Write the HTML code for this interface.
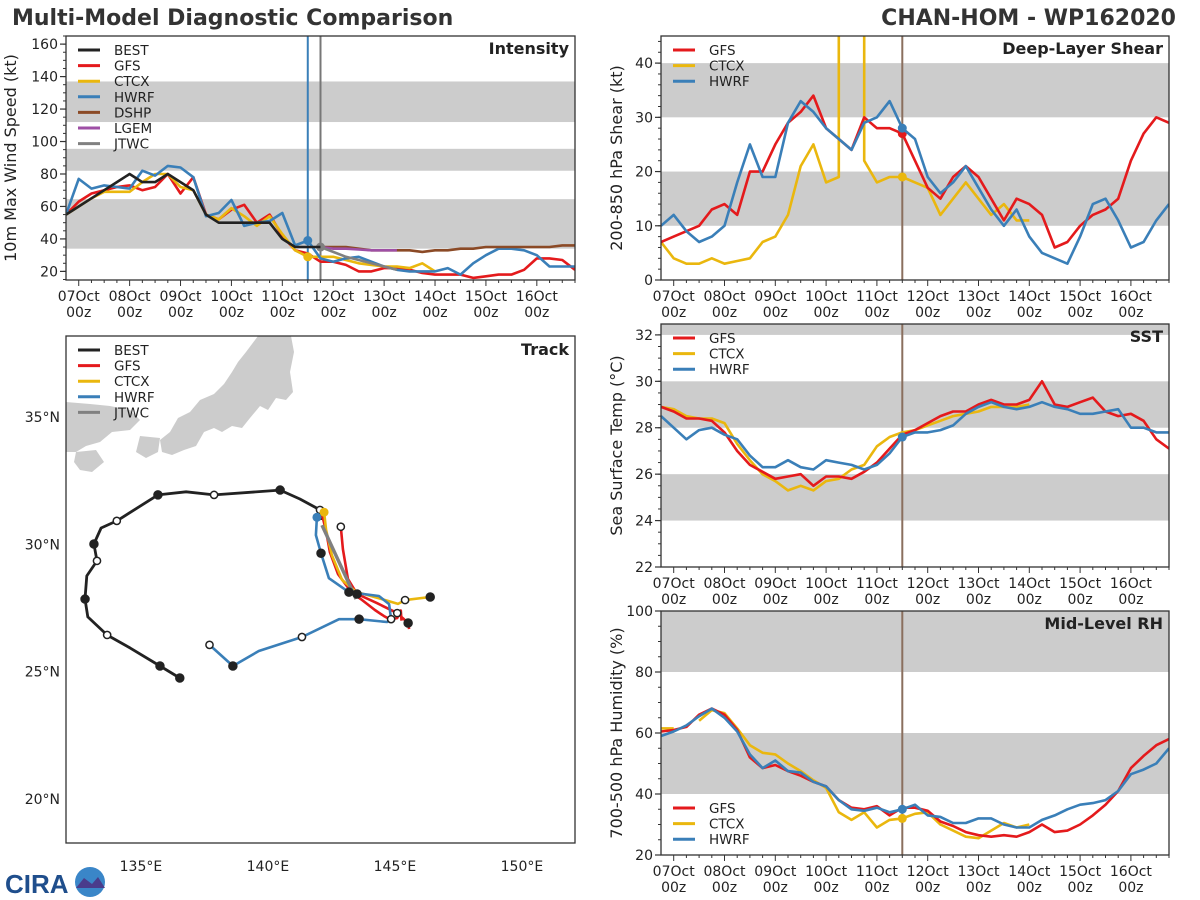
<!DOCTYPE html>
<html><head><meta charset="utf-8"><style>
html,body{margin:0;padding:0;background:#fff;}
svg{display:block;font-family:"DejaVu Sans","Liberation Sans",sans-serif;}
</style></head><body>
<svg id="fig" width="1200" height="900" viewBox="0 0 1200 900" xmlns="http://www.w3.org/2000/svg">
<text x="12" y="25" font-size="22" font-weight="bold" fill="#333">Multi-Model Diagnostic Comparison</text>
<text x="1176" y="25" font-size="22" font-weight="bold" fill="#333" text-anchor="end">CHAN-HOM - WP162020</text>
<g>
<text x="5" y="893" font-size="26" font-weight="bold" fill="#1f4e8c" font-family="Liberation Sans, sans-serif">CIRA</text>
<circle cx="90" cy="882" r="15" fill="#3a86c8"/>
<path d="M76 888 L84 878 L92 884 L98 877 L105 888 Z" fill="#4a3c8c"/>
</g>
</svg>
<script>
// ---------- data ----------
const hours = [-6,0,6,12,18,24,30,36,42,48,54,60,66,72,78,84,90,96,102,108,114,120,126,132,138,144,150,156,162,168,174,180,186,192,198,204,210,216,222,228,234];
const dayLabels = ['07Oct','08Oct','09Oct','10Oct','11Oct','12Oct','13Oct','14Oct','15Oct','16Oct'];
const N = null;
// Intensity (kt)
const intBest = [55,60,65,70,75,80,75,75,80,75,70,55,50,50,50,50,50,40,35,35,35];
const intGfs  = [55,63,68,70,72,73,70,72,80,68,78,55,52,58,61,50,55,42,33,31,26,26,24,20,20,22,22,21,19,18,18,18,16,17,18,18,21,28,28,27,21];
const intCtcx = [55,60,65,69,69,69,75,80,80,72,70,55,52,59,54,48,54,43,33,29,29,29,27,25,24,23,23,22,25,20];
const intHwrf = [55,77,71,73,72,71,82,79,85,84,78,54,56,64,48,50,51,56,36,39,28,26,28,29,26,23,21,20,20,20,22,18,25,30,34,34,33,30,23,23,23];
const intDshp = [N,N,N,N,N,N,N,N,N,N,N,N,N,N,N,N,N,N,N,N,35,35,35,34,33,33,33,33,32,33,33,34,34,35,35,35,35,35,35,36,36];
const intLgem = [N,N,N,N,N,N,N,N,N,N,N,N,N,N,N,N,N,N,N,N,35,34,34,33.5,33,33,33];
const intJtwc = [N,N,N,N,N,N,N,N,N,N,N,N,N,N,N,N,N,N,N,N,35,32,29,27,25,23,21];
// Shear (kt)
const shGfs  = [7,8,9,10,13,14,12,20,20,25,29,31,34,28,26,24,30,28,28,27,22,17,15,19,21,19,15,11,15,14,12,6,7,10,12,13,15,22,27,30,29];
const shHwrf = [10,12,9,7,8,10,18,25,19,19,29,33,31,28,26,24,29,30,33,28,26,19,16,18,21,17,13,10,13,8,5,4,3,8,14,15,11,6,7,11,14];
const shCtcxHours = [-6,0,6,12,18,24,30,36,42,48,54,60,66,72,78,78,90,90,96,102,108,114,120,126,132,138,144,150,156,162,168];
const shCtcxVals  = [7,4,3,3,4,3,3.5,4,7,8,12,21,25,18,19,99,99,22,18,19,19,18,17,12,15,18,15,12,14,11,11];
// SST (C)
const sstGfs  = [28.9,28.7,28.4,28.4,28.3,27.8,27.0,26.4,26.1,25.8,25.9,26.0,25.5,25.9,25.9,25.8,26.1,26.5,27.1,27.7,27.9,28.2,28.5,28.7,28.7,29.0,29.2,29.0,29.0,29.2,30.0,29.0,28.9,29.1,29.3,28.7,28.5,28.6,28.3,27.5,27.1];
const sstCtcx = [28.9,28.8,28.5,28.4,28.4,28.2,27.3,26.6,26.0,25.7,25.3,25.5,25.3,25.7,25.8,26.2,26.4,27.2,27.6,27.8,27.9,28.1,28.3,28.5,28.6,28.7,28.9,28.9,28.9,29.0];
const sstHwrf = [28.5,28.0,27.5,27.9,28.0,27.7,27.5,26.8,26.3,26.3,26.6,26.3,26.2,26.6,26.5,26.4,26.2,26.4,26.9,27.6,27.8,27.8,27.9,28.1,28.6,28.9,29.1,28.9,28.8,28.9,29.1,28.9,28.8,28.6,28.6,28.7,28.8,28.0,28.0,27.8,27.8];
// RH (%)
const rhGfs  = [60.5,61,62,66,68,66,61,52,48.5,49.5,47.5,46,44,42.5,38,35.5,35,36,33,35.5,35.5,34.5,31,29.5,27.5,26.5,26,26.5,26,27.5,30,27.5,28,30,33,36.5,41,48.5,52.5,56,58];
const rhCtcx = [61.5,61.5,N,64,67.5,66.5,61.5,56,53.5,53,50,47.5,44.5,42,34,31.5,34,29,31.5,32,33.5,34,30,28,26,25.5,28,30.5,29,30];
const rhHwrf = [59,60.5,62.5,65.5,68,65,60.5,53,48.5,51,47.5,47,44,42.5,38,35,34.5,35.5,34,35,36.5,33,32.5,30.5,30.5,32,32,30,29,29,31.5,33,35,36.5,37,38,41,46.5,48,50,55];
// Track (lon, lat)
const trkBestLon = [136.53,135.75,134.57,133.67,132.91,132.80,132.87,133.27,133.15,133.43,134.05,135.67,136.78,137.88,140.48,141.26,142.05,142.13];
const trkBestLat = [24.75,25.22,25.93,26.44,27.15,27.85,28.76,29.35,30.01,30.64,30.92,31.94,32.06,31.94,32.13,31.78,31.35,30.96];
const trkGfsLon = [142.13,142.29,142.44,142.76,143.32,143.71,144.21,144.57,144.80,145.09,145.23,145.26];
const trkGfsLat = [31.18,30.51,29.69,28.83,28.08,27.81,27.42,27.18,27.06,27.10,27.40,27.00];
const trkGfs2Lon = [142.87,142.95,143.15,143.51,144.29,145.09,145.52,145.56];
const trkGfs2Lat = [30.69,29.81,28.64,28.05,27.69,27.30,26.91,26.67];
const trkCtcxLon = [142.21,142.29,142.52,142.92,143.47,144.33,145.12,145.40,146.39];
const trkCtcxLat = [31.26,30.56,29.57,28.60,28.13,27.89,27.66,27.81,27.93];
const trkHwrfLon = [141.93,141.89,142.09,142.40,143.19,144.37,144.77,144.85,144.69,143.59,142.80,141.34,139.64,138.62,137.70];
const trkHwrfLat = [31.06,30.36,29.65,28.67,28.12,27.97,27.65,27.06,26.95,27.06,27.06,26.36,25.81,25.22,26.05];
const trkJtwcLon = [142.13,143.47];
const trkJtwcLat = [30.75,27.85];

// ---------- helpers ----------
const svg = document.getElementById('fig');
const NS = 'http://www.w3.org/2000/svg';
function mk(tag, attrs, parent){ const e=document.createElementNS(NS,tag); for(const k in attrs) e.setAttribute(k,attrs[k]); (parent||svg).appendChild(e); return e; }
const C = {best:'#222222',gfs:'#e41a1c',ctcx:'#eab70e',hwrf:'#3a7fb8',dshp:'#8b4a26',lgem:'#9e4fa5',jtwc:'#808080'};
let clipId=0;

function panel(p){
  const g = mk('g',{});
  
  
  const xs = h => p.x0 + (h - (-6)) * (p.x1 - p.x0) / 240;
  const ys = v => p.y1 - (v - p.ymin) * (p.y1 - p.y0) / (p.ymax - p.ymin);
  p.bands.forEach(b=>{
    const t=Math.min(b[1],p.ymax), bo=Math.max(b[0],p.ymin);
    const r=mk('rect',{x:p.x0,y:ys(t),width:p.x1-p.x0,height:ys(bo)-ys(t),fill:'#cccccc'},g);
    
    
  });
  (p.vlines||[]).forEach(v=>{
    const l=mk('line',{x1:xs(v[0]),x2:xs(v[0]),y1:p.y0,y2:p.y1,stroke:v[1],'stroke-width':2},g);
    
    
  });
  const cid='clip'+(clipId++);
  const cp=mk('clipPath',{id:cid},g); mk('rect',{x:p.x0,y:p.y0,width:p.x1-p.x0,height:p.y1-p.y0},cp);
  const sg=mk('g',{'clip-path':'url(#'+cid+')'},g);
  p.series.forEach(s=>{
    const hs = s.h || hours;
    let segs=[],cur=[];
    s.v.forEach((v,i)=>{ if(v===null||v===undefined){ if(cur.length) segs.push(cur); cur=[]; } else cur.push(xs(hs[i]).toFixed(1)+','+ys(v).toFixed(1)); });
    if(cur.length) segs.push(cur);
    segs.forEach(sgm=>{
      const pl=mk('polyline',{points:sgm.join(' '),fill:'none',stroke:s.c,'stroke-width':2.6,'stroke-linejoin':'round'},sg);
      
      
    });
    if(s.dot!==undefined){
      const d=mk('circle',{cx:xs(hs[s.dot]),cy:ys(s.v[s.dot]),r:4.5,fill:s.c},sg);
      
      
    }
  });
  mk('rect',{x:p.x0,y:p.y0,width:p.x1-p.x0,height:p.y1-p.y0,fill:'none',stroke:'#333','stroke-width':1.3},g);
  for(let v=p.ymin0; v<=p.ymax+1e-6; v+=p.minor){
    if(v<p.ymin-1e-6) continue;
    mk('line',{x1:p.x0-3,x2:p.x0,y1:ys(v),y2:ys(v),stroke:'#333','stroke-width':1},g);
  }
  p.yticks.forEach(v=>{
    mk('line',{x1:p.x0-6,x2:p.x0,y1:ys(v),y2:ys(v),stroke:'#333','stroke-width':1.2},g);
    const t=mk('text',{x:p.x0-8,y:ys(v)+5,'font-size':14,'text-anchor':'end',fill:'#222'},g); t.textContent=v;
    
    
  });
  for(let h=0; h<=234; h+=6){ mk('line',{x1:xs(h),x2:xs(h),y1:p.y1,y2:p.y1+(h%24?3:6),stroke:'#333','stroke-width':1},g); }
  dayLabels.forEach((d,i)=>{
    const t=mk('text',{x:xs(i*24),y:p.y1+21,'font-size':14,'text-anchor':'middle',fill:'#222'},g); t.textContent=d;
    
    
    const t2=mk('text',{x:xs(i*24),y:p.y1+37,'font-size':14,'text-anchor':'middle',fill:'#222'},g); t2.textContent='00z';
    
    
  });
  const yl=mk('text',{x:0,y:0,'font-size':16,'text-anchor':'middle',fill:'#222',transform:'translate('+p.ylx+','+((p.y0+p.y1)/2)+') rotate(-90)'},g); yl.textContent=p.ylabel;
  
  
  const tt=mk('text',{x:p.x1-6,y:p.y0+18,'font-size':16,'font-weight':'bold','text-anchor':'end',fill:'#222'},g); tt.textContent=p.title;
  
  
  legend(g,p.x0+12,p.legY,p.legend);
}
function legend(g,x,y,items){
  items.forEach((it,i)=>{
    const yy=y+i*15.6;
    const l=mk('line',{x1:x,x2:x+22,y1:yy,y2:yy,stroke:it[1],'stroke-width':3},g);
    
    
    const t=mk('text',{x:x+36,y:yy+5,'font-size':13.5,fill:'#222'},g); t.textContent=it[0];
    
    
  });
}

panel({name:'intensity-panel',x0:66,x1:575,y0:36,y1:280,ymin:14.7,ymax:165,ymin0:15,minor:5,yticks:[20,40,60,80,100,120,140,160],
  bands:[[34,64.5],[82,95.5],[112,137]],vlines:[[108,'#3a7fb8'],[114,'#777']],ylx:16,ylabel:'10m Max Wind Speed (kt)',title:'Intensity',legY:50,
  legend:[['BEST',C.best],['GFS',C.gfs],['CTCX',C.ctcx],['HWRF',C.hwrf],['DSHP',C.dshp],['LGEM',C.lgem],['JTWC',C.jtwc]],
  series:[{n:'gfs',c:C.gfs,v:intGfs},{n:'ctcx',c:C.ctcx,v:intCtcx,dot:19},{n:'hwrf',c:C.hwrf,v:intHwrf,dot:19},{n:'dshp',c:C.dshp,v:intDshp},{n:'lgem',c:C.lgem,v:intLgem},{n:'jtwc',c:C.jtwc,v:intJtwc,dot:20},{n:'best',c:C.best,v:intBest}]});
panel({name:'shear-panel',x0:661,x1:1169,y0:36,y1:280,ymin:0,ymax:45,ymin0:0,minor:2,yticks:[0,10,20,30,40],
  bands:[[10,20],[30,40]],vlines:[[108,'#8a6f5e']],ylx:622,ylabel:'200-850 hPa Shear (kt)',title:'Deep-Layer Shear',legY:50,
  legend:[['GFS',C.gfs],['CTCX',C.ctcx],['HWRF',C.hwrf]],
  series:[{n:'ctcx',c:C.ctcx,v:shCtcxVals,h:shCtcxHours,dot:20},{n:'gfs',c:C.gfs,v:shGfs,dot:19},{n:'hwrf',c:C.hwrf,v:shHwrf,dot:19}]});
panel({name:'sst-panel',x0:661,x1:1169,y0:324,y1:567,ymin:22,ymax:32.47,ymin0:22,minor:0.5,yticks:[22,24,26,28,30,32],
  bands:[[24,26],[28,30],[32,34]],vlines:[[108,'#8a6f5e']],ylx:622,ylabel:'Sea Surface Temp (°C)',title:'SST',legY:338,
  legend:[['GFS',C.gfs],['CTCX',C.ctcx],['HWRF',C.hwrf]],
  series:[{n:'ctcx',c:C.ctcx,v:sstCtcx},{n:'gfs',c:C.gfs,v:sstGfs},{n:'hwrf',c:C.hwrf,v:sstHwrf,dot:19}]});
panel({name:'rh-panel',x0:661,x1:1169,y0:611,y1:855,ymin:20,ymax:100,ymin0:20,minor:5,yticks:[20,40,60,80,100],
  bands:[[40,60],[80,100]],vlines:[[108,'#8a6f5e']],ylx:622,ylabel:'700-500 hPa Humidity (%)',title:'Mid-Level RH',legY:808,
  legend:[['GFS',C.gfs],['CTCX',C.ctcx],['HWRF',C.hwrf]],
  series:[{n:'ctcx',c:C.ctcx,v:rhCtcx,dot:19},{n:'gfs',c:C.gfs,v:rhGfs},{n:'hwrf',c:C.hwrf,v:rhHwrf,dot:19}]});

// ---------- track ----------
(function(){
  const T={x0:66,x1:575,y0:336,y1:843,lon0:132.05,lon1:152.09,lat0:18.27,lat1:38.18};
  const g=mk('g',{});
  
  
  const lx=lo=>T.x0+(lo-T.lon0)*(T.x1-T.x0)/(T.lon1-T.lon0);
  const ly=la=>T.y1-(la-T.lat0)*(T.y1-T.y0)/(T.lat1-T.lat0);
  const cp=mk('clipPath',{id:'trkclip'},g); mk('rect',{x:T.x0,y:T.y0,width:T.x1-T.x0,height:T.y1-T.y0},cp);
  const sg=mk('g',{'clip-path':'url(#trkclip)'},g);
  const land=mk('path',{fill:'#cccccc',d:'M258,336 L291,336 L294,352 L290,372 L293,392 L286,400 L276,398 L268,410 L260,406 L250,418 L242,428 L232,426 L222,432 L214,428 L204,432 L196,446 L184,450 L172,455 L162,452 L160,440 L170,432 L178,418 L190,412 L200,400 L214,394 L224,384 L232,372 L238,362 L246,352 Z M66,402 L90,404 L110,406 L130,410 L140,420 L130,430 L112,432 L100,442 L86,446 L76,452 L66,452 Z M140,436 L160,438 L158,452 L146,458 L136,452 Z M76,452 L96,450 L104,462 L92,472 L80,470 L74,462 Z'},sg);
  
  
  function track(n,c,lo,la,w){
    const pts=lo.map((v,i)=>lx(v).toFixed(1)+','+ly(la[i]).toFixed(1)).join(' ');
    const pl=mk('polyline',{points:pts,fill:'none',stroke:c,'stroke-width':w||2.6,'stroke-linejoin':'round'},sg);
    
    
  }
  function markers(lo,la,list){
    list.forEach(([i,f])=>{
      const m=mk('circle',{cx:lx(lo[i]),cy:ly(la[i]),r:f?4:3.6,fill:f?'#222':'#fff',stroke:'#222','stroke-width':1.5},sg);
      
      
    });
  }
  track('best',C.best,trkBestLon,trkBestLat,2.8);
  track('gfs',C.gfs,trkGfsLon,trkGfsLat);
  track('gfs-alt',C.gfs,trkGfs2Lon,trkGfs2Lat);
  track('ctcx',C.ctcx,trkCtcxLon,trkCtcxLat);
  track('hwrf',C.hwrf,trkHwrfLon,trkHwrfLat);
  track('jtwc',C.jtwc,trkJtwcLon,trkJtwcLat,3.5);
  markers(trkBestLon,trkBestLat,[[0,true],[1,true],[3,false],[5,true],[7,false],[8,true],[10,false],[11,true],[13,false],[14,true],[16,false]]);
  markers(trkHwrfLon,trkHwrfLat,[[14,false],[13,true],[11,false],[9,true],[7,false],[4,true],[2,true]]);
  markers(trkGfs2Lon,trkGfs2Lat,[[0,false],[3,true],[5,false],[6,true]]);
  markers(trkCtcxLon,trkCtcxLat,[[8,true],[7,false]]);
  mk('circle',{cx:lx(trkCtcxLon[0]),cy:ly(trkCtcxLat[0]),r:4.5,fill:C.ctcx},sg);
  mk('circle',{cx:lx(trkHwrfLon[0]),cy:ly(trkHwrfLat[0]),r:4.5,fill:C.hwrf},sg);
  mk('rect',{x:T.x0,y:T.y0,width:T.x1-T.x0,height:T.y1-T.y0,fill:'none',stroke:'#333','stroke-width':1.3},g);
  [135,140,145,150].forEach(v=>{const t=mk('text',{x:lx(v),y:T.y1+28,'font-size':14,'text-anchor':'middle',fill:'#222'},g);t.textContent=v+'°E';
    
    });
  [20,25,30,35].forEach(v=>{const t=mk('text',{x:T.x0-6,y:ly(v)+5,'font-size':14,'text-anchor':'end',fill:'#222'},g);t.textContent=v+'°N';
    
    });
  const tt=mk('text',{x:T.x1-6,y:T.y0+19,'font-size':16,'font-weight':'bold','text-anchor':'end',fill:'#222'},g);tt.textContent='Track';
  
  
  legend(g,T.x0+12,T.y0+14,[['BEST',C.best],['GFS',C.gfs],['CTCX',C.ctcx],['HWRF',C.hwrf],['JTWC',C.jtwc]]);
})();
</script>
</body></html>
